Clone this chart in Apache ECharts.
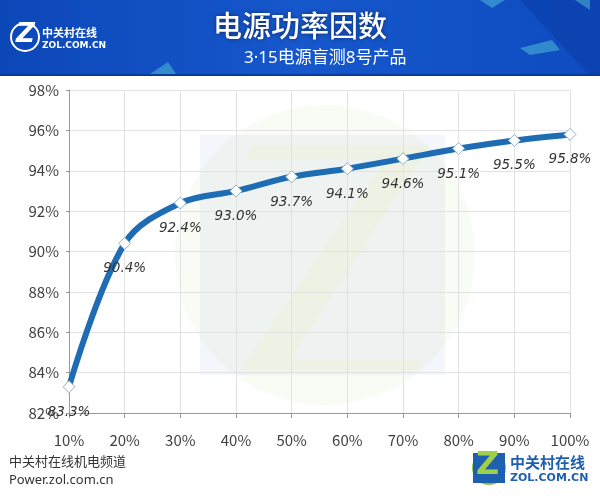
<!DOCTYPE html>
<html><head><meta charset="utf-8">
<script src="https://cdn.jsdelivr.net/npm/echarts@6/dist/echarts.min.js"></script>
<style>html,body{margin:0;padding:0;background:#fff}#c{width:600px;height:496px}</style>
</head><body><div id="c"></div>
<script>
const categories = ['10%','20%','30%','40%','50%','60%','70%','80%','90%','100%'];
const values = [83.3, 90.4, 92.4, 93.0, 93.7, 94.1, 94.6, 95.1, 95.5, 95.8];
const titleText = '电源功率因数';
const subtitleText = '3·15电源盲测8号产品';
const sourceLines = ['中关村在线机电频道', 'Power.zol.com.cn'];

const chart = echarts.init(document.getElementById('c'));
const font = '"Noto Sans CJK SC", "Microsoft YaHei", sans-serif';
const mixFont = '"Noto Sans", "Noto Sans CJK SC", sans-serif';
chart.setOption({
  backgroundColor: '#fff',
  animation: false,
  graphic: [
    { type: 'rect', z: -10, shape: { x: 0, y: 0, width: 600, height: 76 },
      style: { fill: new echarts.graphic.LinearGradient(0, 0, 1, 0, [
        { offset: 0, color: '#0c47b8' }, { offset: 0.5, color: '#1657cc' }, { offset: 1, color: '#0e4cc0' }]) } },
    { type: 'polygon', z: -9, shape: { points: [[520, 0], [600, 0], [600, 76], [590, 76]] }, style: { fill: 'rgba(10,50,150,0.35)' } },
    { type: 'rect', z: -9, shape: { x: 0, y: 74, width: 600, height: 2 }, style: { fill: '#0a3a9a' } },
    { type: 'polygon', z: -8, shape: { points: [[520, 48], [552, 40], [560, 50], [530, 55]] }, style: { fill: 'rgba(90,210,220,0.45)' } },
    { type: 'polygon', z: -8, shape: { points: [[480, 0], [505, 0], [492, 8]] }, style: { fill: 'rgba(90,210,220,0.45)' } },
    { type: 'polygon', z: -8, shape: { points: [[575, 0], [590, 0], [590, 10]] }, style: { fill: 'rgba(90,210,220,0.45)' } },
    { type: 'polygon', z: -8, shape: { points: [[150, 74], [168, 62], [176, 74]] }, style: { fill: 'rgba(90,210,220,0.45)' } },
    // watermark
    { type: 'circle', z: -5, shape: { cx: 325, cy: 255, r: 150 }, style: { fill: 'rgba(200,230,170,0.13)' } },
    { type: 'polygon', z: -5, shape: { points: [[200, 135], [445, 135], [445, 375], [200, 375]] }, style: { fill: 'rgba(185,200,235,0.16)' } },
    { type: 'polygon', z: -4, shape: { points: [[250, 145], [430, 145], [290, 360], [420, 360], [420, 370], [240, 370], [385, 160], [250, 160]] }, style: { fill: 'rgba(240,240,190,0.25)' } },
    // header texts
    { type: 'text', left: 'center', top: 11, style: { text: titleText, fill: '#fff', font: '500 29px ' + font, textShadowColor: 'rgba(0,0,0,0.5)', textShadowBlur: 4 } },
    { type: 'text', x: 244, y: 50, style: { text: subtitleText, fill: '#fff', font: '17px ' + mixFont } },
    // top-left logo
    { type: 'circle', shape: { cx: 25, cy: 37, r: 14 }, style: { fill: 'none', stroke: '#fff', lineWidth: 2 } },
    { type: 'text', x: 16, y: 22, style: { text: 'Z', fill: '#fff', font: 'bold italic 26px "DejaVu Sans", sans-serif' } },
    { type: 'text', x: 42, y: 27, style: { text: '中关村在线', fill: '#fff', font: 'bold 11px ' + font } },
    { type: 'text', x: 42, y: 41, style: { text: 'ZOL.COM.CN', fill: '#fff', font: 'bold 9px "DejaVu Sans", sans-serif' } },
    // bottom-left source
    { type: 'text', x: 9, y: 455, style: { text: sourceLines[0], fill: '#333', font: '13px ' + font } },
    { type: 'text', x: 9, y: 474, style: { text: sourceLines[1], fill: '#333', font: '13px "Noto Sans", sans-serif' } },
    // bottom-right logo
    { type: 'circle', shape: { cx: 489, cy: 468, r: 17 }, style: { fill: '#8cc63f' } },
    { type: 'rect', shape: { x: 473, y: 453, width: 32, height: 30 }, style: { fill: '#1f5fb0' } },
    { type: 'text', x: 476, y: 450, style: { text: 'Z', fill: '#9fd04a', font: 'bold 32px "DejaVu Sans", sans-serif' } },
    { type: 'text', x: 510, y: 455, style: { text: '中关村在线', fill: '#1f5fb0', font: 'bold 15px ' + font } },
    { type: 'text', x: 510, y: 473, style: { text: 'ZOL.COM.CN', fill: '#1f5fb0', font: 'bold 11px "DejaVu Sans", sans-serif' } }
  ],
  grid: { left: 69, right: 30, top: 90, bottom: 83 },
  xAxis: {
    type: 'category', data: categories, boundaryGap: false,
    axisLine: { lineStyle: { color: '#999' } },
    axisTick: { show: true, alignWithLabel: true, length: 5, lineStyle: { color: '#999' } },
    axisLabel: { color: '#404040', fontSize: 15, margin: 20, fontFamily: font },
    splitLine: { show: true, lineStyle: { color: '#e2e2e2' } }
  },
  yAxis: {
    type: 'value', min: 82, max: 98, interval: 2,
    axisLine: { show: true, lineStyle: { color: '#999' } },
    axisTick: { show: true, length: 3, lineStyle: { color: '#999' } },
    axisLabel: { color: '#404040', fontSize: 15, margin: 10, fontFamily: font, formatter: v => v + '%' },
    splitLine: { lineStyle: { color: '#e2e2e2' } }
  },
  series: [{
    type: 'line', data: values, smooth: 0.35,
    lineStyle: { color: '#1e6db4', width: 6 },
    symbol: 'diamond', symbolSize: 12,
    itemStyle: { color: '#fff', borderColor: '#8fb0c8', borderWidth: 1 },
    label: { show: true, position: 'bottom', distance: 12, fontStyle: 'italic', fontSize: 13.5, color: '#333',
      fontFamily: '"DejaVu Sans", sans-serif', formatter: p => p.value.toFixed(1) + '%' }
  }]
});
</script></body></html>
